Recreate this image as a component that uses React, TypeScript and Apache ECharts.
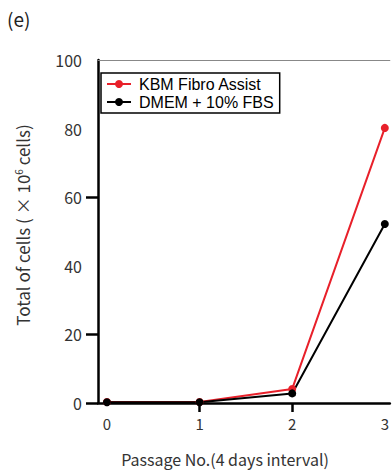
import React, { useEffect, useRef } from "react";
import * as echarts from "echarts";

const passages = [0, 1, 2, 3];
const kbmValues = [0.3, 0.3, 4.1, 80.2];
const dmemValues = [0.2, 0.2, 2.8, 52.2];
const yTicks = [0, 20, 40, 60, 80, 100];
const seriesNames = ["KBM Fibro Assist", "DMEM + 10% FBS"];

const JP = '"Noto Sans CJK JP", "Noto Sans", sans-serif';

export default function App() {
  const ref = useRef<HTMLDivElement>(null);
  useEffect(() => {
    document.body.style.margin = "0";
    const chart = echarts.init(ref.current!, null, { renderer: "svg" });
    chart.setOption({
      animation: false,
      backgroundColor: "#fff",
      grid: { left: 98, right: 0, top: 60, bottom: 68 },
      legend: {
        orient: "vertical",
        left: 101,
        top: 73,
        data: seriesNames,
        borderColor: "#000",
        borderWidth: 1.5,
        padding: [3, 6, 3, 5],
        itemWidth: 24,
        itemHeight: 10,
        itemGap: 2,
        textStyle: { fontFamily: '"Liberation Sans", Arial, sans-serif', fontSize: 16, color: "#000", padding: [0, 0, 0, 3] },
      },
      xAxis: [
        {
          type: "value",
          min: -0.0965,
          max: 3.054,
          axisLine: { lineStyle: { color: "#000", width: 2.5 } },
          axisTick: { length: 9, lineStyle: { color: "#000", width: 2.5 }, customValues: [1, 2] },
          axisLabel: { customValues: passages, fontFamily: JP, fontSize: 15, color: "#333", margin: 13 },
          splitLine: { show: false },
        },
        {
          type: "value",
          position: "top",
          min: -0.0965,
          max: 3.054,
          axisLine: { lineStyle: { color: "#888", width: 1 } },
          axisTick: { show: false },
          axisLabel: { show: false },
          splitLine: { show: false },
        },
      ],
      yAxis: {
        type: "value",
        min: yTicks[0],
        max: yTicks[yTicks.length - 1],
        interval: 20,
        axisLine: { onZero: false, lineStyle: { color: "#000", width: 2.5 } },
        axisTick: { show: true, length: 12, lineStyle: { color: "#000", width: 2.5 }, customValues: [0, 20, 60] },
        axisLabel: { fontFamily: JP, fontSize: 16, color: "#333", margin: 16 },
        splitLine: { show: false },
      },
      series: [
        {
          name: seriesNames[0],
          type: "line",
          data: passages.map((p, i) => [p, kbmValues[i]]),
          color: "#e8202a",
          lineStyle: { width: 2, color: "#e8202a" },
          symbol: "circle",
          symbolSize: 8,
          itemStyle: { color: "#e8202a" },
        },
        {
          name: seriesNames[1],
          type: "line",
          data: passages.map((p, i) => [p, dmemValues[i]]),
          color: "#000",
          lineStyle: { width: 2, color: "#000" },
          symbol: "circle",
          symbolSize: 8,
          itemStyle: { color: "#000" },
        },
      ],
      graphic: [
        {
          type: "text",
          left: 7,
          top: 9,
          style: { text: "(e)", fontFamily: JP, fontSize: 19, fill: "#222" },
        },
        {
          type: "text",
          x: 225,
          y: 459,
          style: {
            text: "Passage No.(4 days interval)",
            fontFamily: JP,
            fontSize: 16,
            fill: "#333",
            align: "center",
            verticalAlign: "middle",
          },
        },
        {
          type: "text",
          x: 22,
          y: 225,
          rotation: Math.PI / 2,
          style: {
            text: "Total of cells ( × 10{sup|6} cells)",
            fontFamily: JP,
            fontSize: 17,
            fill: "#333",
            align: "center",
            verticalAlign: "middle",
            rich: {
              sup: { fontFamily: JP, fontSize: 10, fill: "#333", verticalAlign: "top", padding: [0, 0, 8, 0] },
            },
          },
        },
      ],
    });
    return () => chart.dispose();
  }, []);
  return <div ref={ref} style={{ width: 392, height: 471 }} />;
}
